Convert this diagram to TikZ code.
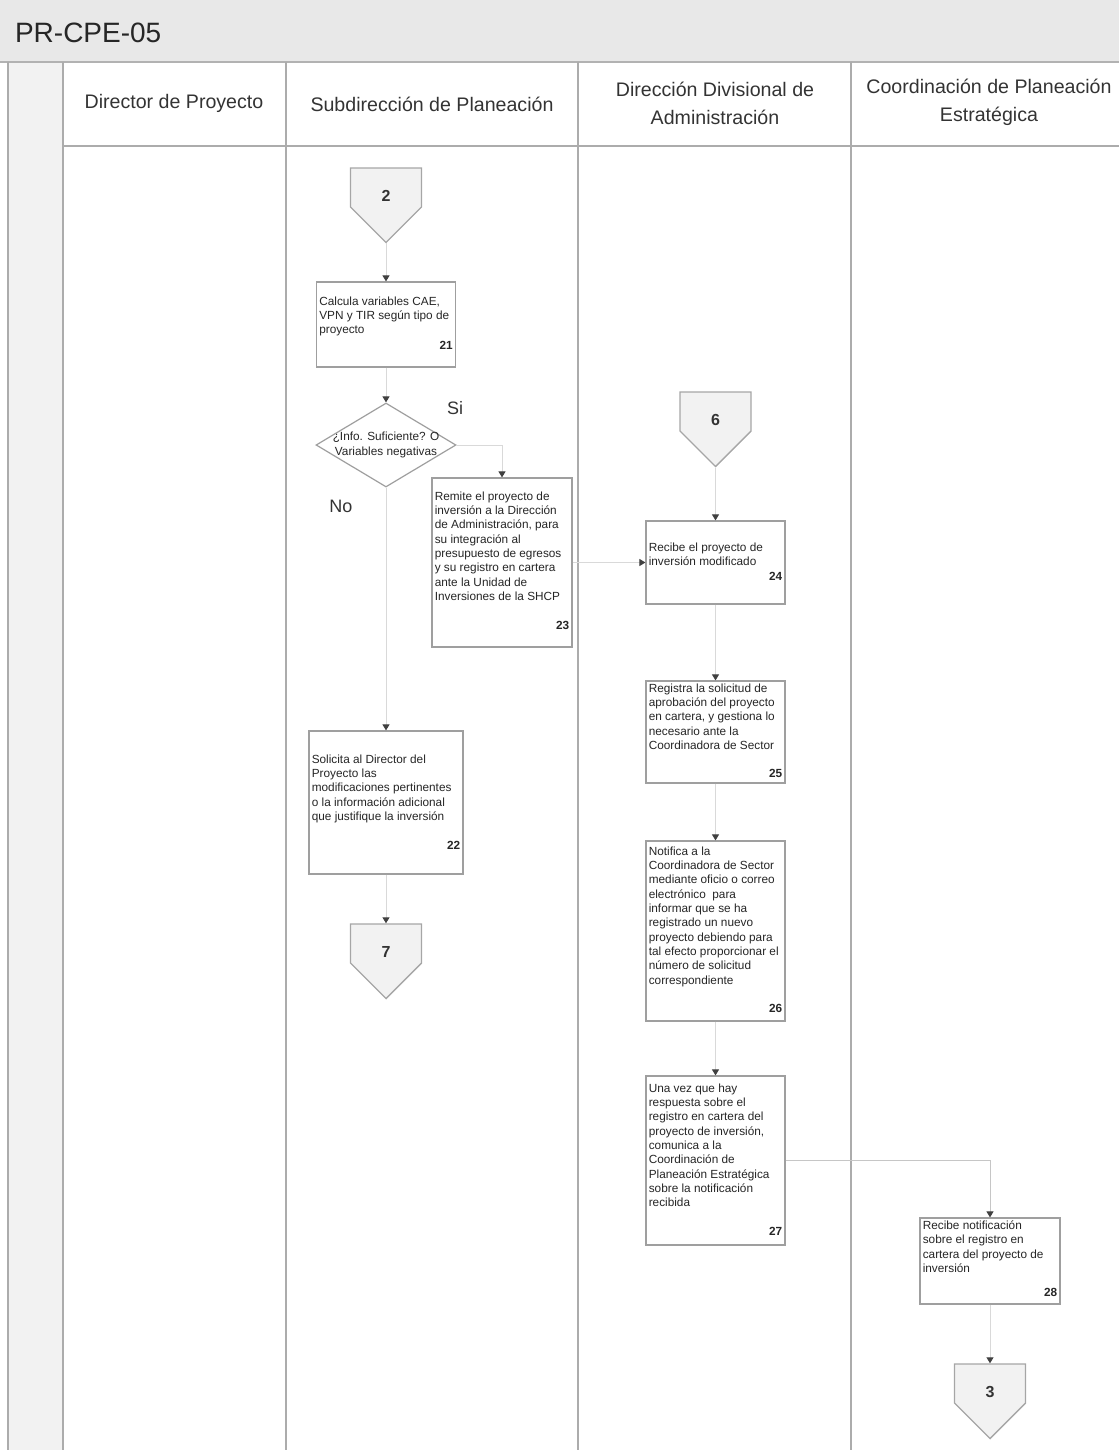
\documentclass[tikz,border=0pt]{standalone}
\usepackage{fontspec}
\setmainfont{Liberation Sans}
\usetikzlibrary{shapes.geometric, shapes.symbols, arrows.meta, positioning}

\begin{document}
\begin{tikzpicture}[
    x=0.5pt, y=-0.5pt,
    lane/.style={draw=gray!65, line width=0.8pt},
    lanehead/.style={font=\fontsize{9.8}{14}\selectfont, text=black!80, align=center},
    proc/.style={rectangle, draw=gray!75, line width=0.6pt, fill=white, inner sep=0pt},
    ptext/.style={anchor=north west, align=left, inner sep=1.5pt, font=\fontsize{5.9}{7.15}\selectfont, text=black!85},
    pnum/.style={anchor=south east, inner sep=1.5pt, font=\fontsize{5.9}{7}\selectfont\bfseries, text=black!85},
    decision/.style={diamond, draw=gray!75, line width=0.6pt, fill=white, inner sep=0pt, minimum width=70pt, minimum height=42pt},
    offpage/.style={signal, signal to=south, signal from=nowhere, draw=gray!70, line width=0.7pt, fill=gray!10, minimum width=35.5pt, minimum height=19.5pt, inner sep=0pt},
    offnum/.style={yshift=-4.25pt, inner sep=0pt, font=\fontsize{8}{9}\selectfont\bfseries, text=black!80},
    flow/.style={draw=gray!30, line width=0.5pt, -{Triangle[width=3.5pt, length=3pt, color=black!75]}},
    answer/.style={font=\fontsize{9}{10}\selectfont, text=black!80},
]
\useasboundingbox (0,0) rectangle (1119,1450);

% Title band and lanes
\fill[gray!18] (0,0) rectangle (1119,62);
\node[anchor=west, font=\fontsize{14}{16}\selectfont, text=black!85] (title) at (8,33) {PR-CPE-05};
\fill[gray!10] (8,62) rectangle (63,1450);
\draw[gray!60, line width=1.2pt] (0,62) -- (1119,62);
\draw[lane] (8,62) -- (8,1450);
\foreach \x in {63,286,578,851}
    \draw[lane] (\x,62) -- (\x,1450);
\draw[lane] (63,146) -- (1119,146);

% Lane headers
\node[lanehead] (h1) at (174,103) {Director de Proyecto};
\node[lanehead] (h2) at (432,104) {Subdirección de Planeación};
\node[lanehead] (h3) at (715,103) {Dirección Divisional de\\Administración};
\node[lanehead] (h4) at (989,102) {Coordinación de Planeación\\Estratégica};

% Subdireccion de Planeacion
\node[offpage, label={[offnum]center:2}] (c2) at (386,187.5) {};
\node[proc, minimum width=69.5pt, minimum height=42.5pt,
    label={[ptext, yshift=-6pt]north west:Calcula variables CAE,\\VPN y TIR según tipo de\\proyecto},
    label={[pnum, yshift=7.5pt]south east:21}] (b21) at (386,324.5) {};
\node[decision, label={[align=center, inner sep=0pt, font=\fontsize{5.9}{7.3}\selectfont, text=black!85]center:¿Info. Suficiente? O\\Variables negativas}] (dec) at (386,445) {};
\node[answer] (si) at (455,408) {Si};
\node[answer] (no) at (341,506) {No};
\node[proc, minimum width=70pt, minimum height=84.5pt,
    label={[ptext, yshift=-5.5pt]north west:Remite el proyecto de\\inversión a la Dirección\\de Administración, para\\su integración al\\presupuesto de egresos\\y su registro en cartera\\ante la Unidad de\\Inversiones de la SHCP},
    label={[pnum, yshift=7.5pt]south east:23}] (b23) at (502,562.5) {};
\node[proc, minimum width=77pt, minimum height=71.5pt,
    label={[ptext, yshift=-10.5pt]north west:Solicita al Director del\\Proyecto las\\modificaciones pertinentes\\o la información adicional\\que justifique la inversión},
    label={[pnum, yshift=11pt]south east:22}] (b22) at (386,802.5) {};
\node[offpage, label={[offnum]center:7}] (c7) at (386,943.5) {};

% Direccion Divisional de Administracion
\node[offpage, label={[offnum]center:6}] (c6) at (715.5,411.5) {};
\node[proc, minimum width=69.5pt, minimum height=41.5pt,
    label={[ptext, yshift=-9.5pt]north west:Recibe el proyecto de\\inversión modificado},
    label={[pnum, yshift=10.5pt]south east:24}] (b24) at (715.5,562.5) {};
\node[proc, minimum width=69.5pt, minimum height=51pt,
    label={[ptext, yshift=0pt]north west:Registra la solicitud de\\aprobación del proyecto\\en cartera, y gestiona lo\\necesario ante la\\Coordinadora de Sector},
    label={[pnum, yshift=1.5pt]south east:25}] (b25) at (715.5,732) {};
\node[proc, minimum width=69.5pt, minimum height=90pt,
    label={[ptext, yshift=-1.5pt]north west:Notifica a la\\Coordinadora de Sector\\mediante oficio o correo\\electrónico~ para\\informar que se ha\\registrado un nuevo\\proyecto debiendo para\\tal efecto proporcionar el\\número de solicitud\\correspondiente},
    label={[pnum, yshift=3pt]south east:26}] (b26) at (715.5,931) {};
\node[proc, minimum width=69.5pt, minimum height=84.5pt,
    label={[ptext, yshift=-2.5pt]north west:Una vez que hay\\respuesta sobre el\\registro en cartera del\\proyecto de inversión,\\comunica a la\\Coordinación de\\Planeación Estratégica\\sobre la notificación\\recibida},
    label={[pnum, yshift=3.5pt]south east:27}] (b27) at (715.5,1160.5) {};

% Coordinacion de Planeacion Estrategica
\node[proc, minimum width=70pt, minimum height=43pt,
    label={[ptext, yshift=0pt]north west:Recibe notificación\\sobre el registro en\\cartera del proyecto de\\inversión},
    label={[pnum, yshift=2.5pt]south east:28}] (b28) at (990,1261) {};
\node[offpage, label={[offnum]center:3}] (c3) at (990,1383.5) {};

% Flow
\draw[flow] (c2) -- (b21);
\draw[flow] (b21) -- (dec);
\draw[flow] (dec.east) -| (b23.north);
\draw[flow] (dec) -- (b22);
\draw[flow] (b22) -- (c7);
\draw[flow] (b23) -- (b24);
\draw[flow] (c6) -- (b24);
\draw[flow] (b24) -- (b25);
\draw[flow] (b25) -- (b26);
\draw[flow] (b26) -- (b27);
\draw[flow, draw=gray!45] (b27.east) -| (b28.north);
\draw[flow] (b28) -- (c3);

\end{tikzpicture}
\end{document}
